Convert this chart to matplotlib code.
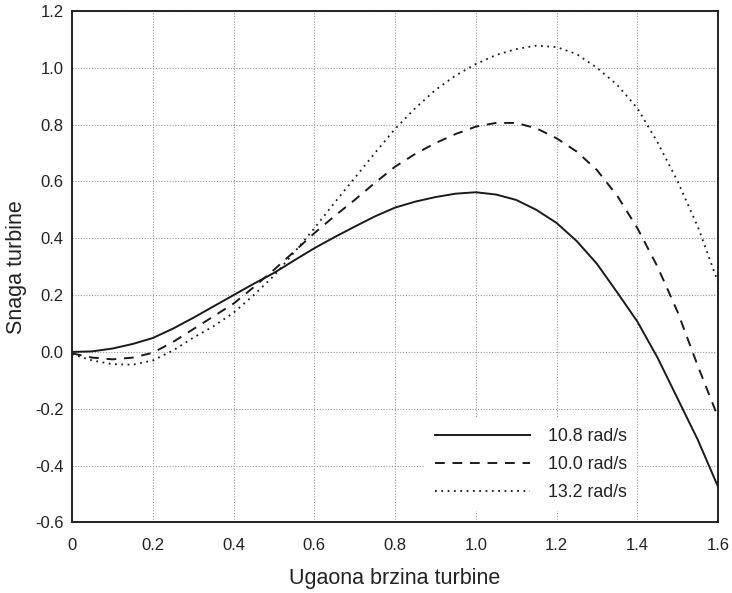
import matplotlib
matplotlib.use('Agg')
import matplotlib.pyplot as plt
import numpy as np

plt.rcParams['font.family'] = ['Liberation Sans', 'DejaVu Sans']

# omega values (x axis)
omega = [0.0, 0.05, 0.1, 0.15, 0.2, 0.25, 0.3, 0.35, 0.4, 0.45, 0.5, 0.55,
         0.6, 0.65, 0.7, 0.75, 0.8, 0.85, 0.9, 0.95, 1.0, 1.05, 1.1, 1.15,
         1.2, 1.25, 1.3, 1.35, 1.4, 1.45, 1.5, 1.55, 1.6]

p_108 = [0.0, 0.002, 0.012, 0.028, 0.049, 0.082, 0.12, 0.16, 0.2, 0.24,
         0.278, 0.322, 0.365, 0.404, 0.441, 0.477, 0.508, 0.529, 0.545,
         0.557, 0.562, 0.554, 0.535, 0.5, 0.454, 0.39, 0.31, 0.21, 0.107,
         -0.02, -0.165, -0.31, -0.475]

p_100 = [-0.005, -0.02, -0.026, -0.02, -0.003, 0.035, 0.08, 0.125, 0.17,
         0.228, 0.289, 0.353, 0.418, 0.478, 0.535, 0.595, 0.652, 0.697,
         0.735, 0.767, 0.793, 0.806, 0.806, 0.787, 0.752, 0.705, 0.64,
         0.55, 0.436, 0.3, 0.14, -0.05, -0.23]

p_132 = [-0.008, -0.03, -0.043, -0.045, -0.03, 0.005, 0.05, 0.09, 0.138,
         0.2, 0.268, 0.35, 0.435, 0.525, 0.612, 0.7, 0.785, 0.858, 0.922,
         0.973, 1.013, 1.045, 1.066, 1.078, 1.073, 1.048, 1.0, 0.94, 0.858,
         0.738, 0.6, 0.44, 0.245]

labels = ['10.8 rad/s', '10.0 rad/s', '13.2 rad/s']
xticks = [0, 0.2, 0.4, 0.6, 0.8, 1.0, 1.2, 1.4, 1.6]
xticklabels = ['0', '0.2', '0.4', '0.6', '0.8', '1.0', '1.2', '1.4', '1.6']
yticks = [-0.6, -0.4, -0.2, 0.0, 0.2, 0.4, 0.6, 0.8, 1.0, 1.2]
yticklabels = ['-0.6', '-0.4', '-0.2', '0.0', '0.2', '0.4', '0.6', '0.8', '1.0', '1.2']

fig = plt.figure(figsize=(7.32, 5.93), dpi=100)
ax = fig.add_axes([0.0984, 0.119, 0.8826, 0.8625])

txt = '#222222'
ax.plot(omega, p_108, color='#1a1a1a', lw=1.4, linestyle='-', label=labels[0])
ax.plot(omega, p_100, color='#1a1a1a', lw=1.4, linestyle=(0, (5, 4)), label=labels[1])
ax.plot(omega, p_132, color='#1a1a1a', lw=1.3, linestyle=(0, (1, 2.5)), label=labels[2])

ax.set_xlim(0, 1.6)
ax.set_ylim(-0.6, 1.2)
ax.set_xticks(xticks)
ax.set_xticklabels(xticklabels)
ax.set_yticks(yticks)
ax.set_yticklabels(yticklabels)
ax.tick_params(length=0, labelsize=12, labelcolor=txt)
ax.tick_params(axis='x', pad=11)
ax.tick_params(axis='y', pad=6)
ax.grid(True, color='#999999', linestyle=(0, (1, 1.5)), lw=0.8)
ax.set_axisbelow(True)
for s in ax.spines.values():
    s.set_linewidth(1.4)
    s.set_color('#222222')

ax.set_xlabel('Ugaona brzina turbine', fontsize=15.5, color=txt)
ax.set_ylabel('Snaga turbine', fontsize=15.5, color=txt)
ax.xaxis.set_label_coords(0.5, -0.089)
ax.yaxis.set_label_coords(-0.07, 0.5)

leg = ax.legend(loc='lower left', bbox_to_anchor=(0.545, 0.0215), fontsize=12.8,
                handlelength=5.35, labelspacing=0.62, handletextpad=1.0,
                frameon=True, fancybox=False, borderpad=0.6, borderaxespad=0)
leg.get_frame().set_edgecolor('none')
leg.get_frame().set_facecolor('white')
leg.get_frame().set_alpha(1)
for t in leg.get_texts():
    t.set_color(txt)

fig.savefig('out.png', dpi=100)
